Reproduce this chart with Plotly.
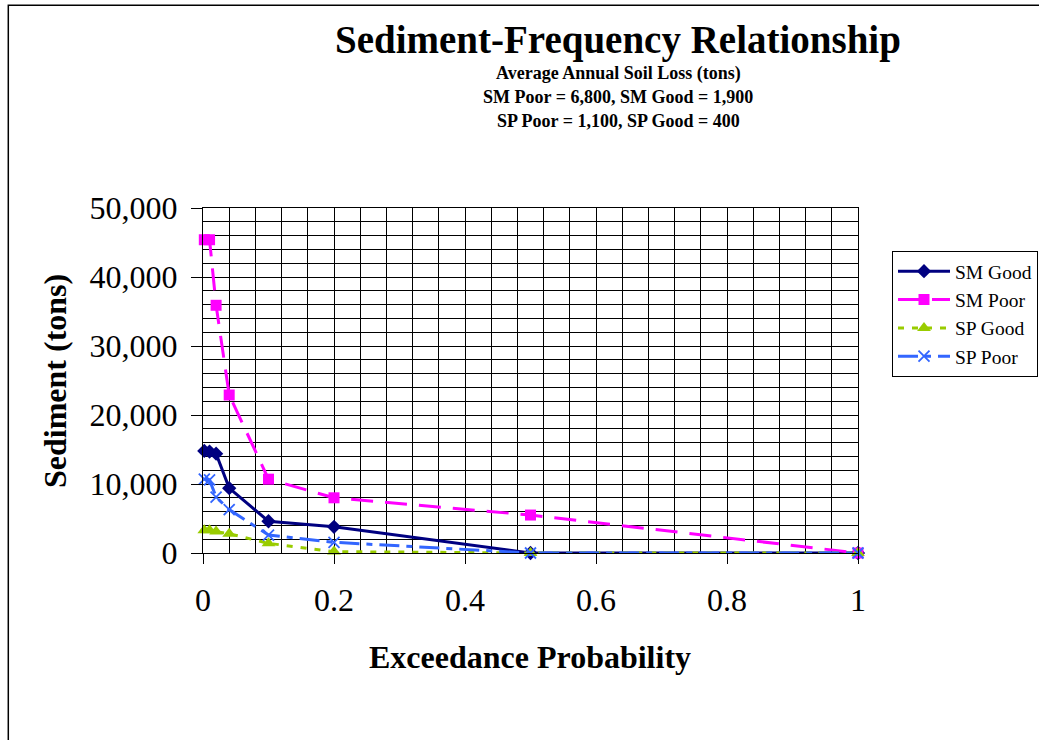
import plotly.graph_objects as go

# ---- data ----
exceedance = [0.002, 0.01, 0.02, 0.04, 0.1, 0.2, 0.5, 1.0]
sm_good = [14800, 14700, 14400, 9400, 4600, 3800, 0, 0]
sm_poor = [45400, 45400, 35900, 22900, 10700, 8000, 5500, 0]
sp_good = [3300, 3300, 3100, 2800, 1400, 200, 0, 0]
sp_poor = [10700, 10600, 8100, 6300, 2600, 1550, 0, 0]

series_names = ["SM Good", "SM Poor", "SP Good", "SP Poor"]
title_text = "Sediment-Frequency Relationship"
subtitle_lines = [
    "Average Annual Soil Loss (tons)",
    "SM Poor = 6,800, SM Good = 1,900",
    "SP Poor = 1,100, SP Good = 400",
]
x_title = "Exceedance Probability"
y_title = "Sediment (tons)"

FONT = "Liberation Serif, Times New Roman, serif"

W, H = 1039, 740
ML, MT = 203, 208
PW, PH = 655, 345
MR = W - ML - PW
MB = H - MT - PH


def px_x(px):
    return (px - ML) / PW


def px_y(py):
    return (MT + PH - py) / PH


fig = go.Figure()

fig.add_trace(go.Scatter(
    x=exceedance, y=sm_good, name=series_names[0], mode="lines+markers",
    line=dict(color="#000080", width=3),
    marker=dict(symbol="diamond", size=11, color="#000080"),
    cliponaxis=False,
))
fig.add_trace(go.Scatter(
    x=exceedance, y=sm_poor, name=series_names[1], mode="lines+markers",
    line=dict(color="#FF00FF", width=3, dash="22px,12px"),
    marker=dict(symbol="square", size=11, color="#FF00FF"),
    cliponaxis=False,
))
fig.add_trace(go.Scatter(
    x=exceedance, y=sp_good, name=series_names[2], mode="lines+markers",
    line=dict(color="#99CC00", width=3, dash="6px,8px"),
    marker=dict(symbol="triangle-up", size=12, color="#99CC00"),
    cliponaxis=False,
))
fig.add_trace(go.Scatter(
    x=exceedance, y=sp_poor, name=series_names[3], mode="lines+markers",
    line=dict(color="#3366FF", width=3, dash="20px,7px,6px,7px"),
    marker=dict(symbol="x-thin", size=11, color="#3366FF",
                line=dict(color="#3366FF", width=1.8)),
    cliponaxis=False,
))

annotations = [
    dict(text="<b>%s</b>" % title_text, x=px_x(618), y=px_y(40),
         xref="paper", yref="paper", showarrow=False,
         xanchor="center", yanchor="middle",
         font=dict(family=FONT, size=39, color="black")),
]
for line, py in zip(subtitle_lines, [73.5, 97, 120.5]):
    annotations.append(dict(
        text="<b>%s</b>" % line, x=px_x(618), y=px_y(py),
        xref="paper", yref="paper", showarrow=False,
        xanchor="center", yanchor="middle",
        font=dict(family=FONT, size=18, color="black")))

annotations.append(dict(
    text="<b>%s</b>" % x_title, x=px_x(530), y=px_y(657),
    xref="paper", yref="paper", showarrow=False,
    xanchor="center", yanchor="middle",
    font=dict(family=FONT, size=32, color="black")))
annotations.append(dict(
    text="<b>%s</b>" % y_title, x=px_x(55), y=px_y(381),
    xref="paper", yref="paper", showarrow=False, textangle=-90,
    xanchor="center", yanchor="middle",
    font=dict(family=FONT, size=32, color="black")))

fig.update_layout(
    width=W, height=H,
    margin=dict(l=ML, r=MR, t=MT, b=MB, pad=0, autoexpand=False),
    paper_bgcolor="white", plot_bgcolor="white",
    font=dict(family=FONT, color="black"),
    annotations=annotations,
    showlegend=True,
    legend=dict(
        x=px_x(892), y=px_y(251), xanchor="left", yanchor="top",
        bordercolor="black", borderwidth=1, bgcolor="white",
        font=dict(family=FONT, size=19.5, color="black"),
        itemwidth=52, tracegroupgap=0,
    ),
    shapes=[dict(
        type="rect", xref="paper", yref="paper",
        x0=px_x(8.3), x1=px_x(1300), y0=px_y(1000), y1=px_y(5.3),
        line=dict(color="black", width=1.5), fillcolor="rgba(0,0,0,0)",
        layer="below",
    )],
)

fig.update_xaxes(
    range=[0, 1], dtick=0.2, tick0=0,
    showgrid=True, gridcolor="black", gridwidth=1,
    minor=dict(dtick=0.04, showgrid=True, gridcolor="black", gridwidth=1),
    zeroline=False, showline=True, mirror=True, linecolor="black", linewidth=1,
    ticks="outside", ticklen=10, tickcolor="black", tickwidth=1,
    ticklabelstandoff=9, automargin=False,
    tickfont=dict(family=FONT, size=32, color="black"),
)
fig.update_yaxes(
    range=[0, 50000], dtick=10000, tick0=0, tickformat=",d",
    showgrid=True, gridcolor="black", gridwidth=1,
    minor=dict(dtick=2000, showgrid=True, gridcolor="black", gridwidth=1),
    zeroline=False, showline=True, mirror=True, linecolor="black", linewidth=1,
    ticks="outside", ticklen=11, tickcolor="black", tickwidth=1,
    ticklabelstandoff=7, automargin=False,
    tickfont=dict(family=FONT, size=32, color="black"),
)

fig.write_html(
    "out.html",
    config={"displayModeBar": False},
    post_script="document.body.style.margin='0';",
)
